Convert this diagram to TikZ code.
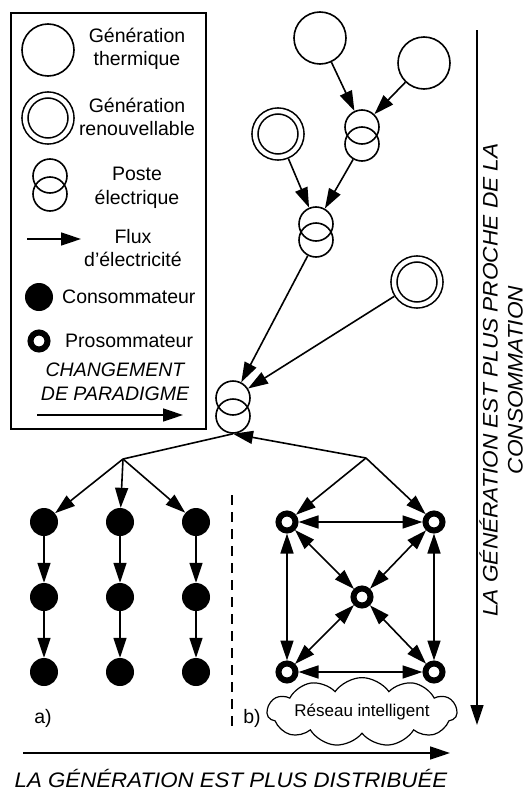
\documentclass[tikz,border=0pt]{standalone}
\usepackage{fontspec}
\setmainfont{Liberation Sans}
\usetikzlibrary{arrows.meta,shapes.symbols}
\tikzset{
	fleche/.style={line width=1.6pt,-{Triangle[length=20pt,width=13pt]}},
	dfleche/.style={line width=1.6pt,{Triangle[length=20pt,width=13pt]}-{Triangle[length=20pt,width=13pt]}},
	thermique/.style={circle,draw,line width=1.6pt,minimum size=52pt,inner sep=0pt},
	renouvelable/.style={circle,draw,line width=1.6pt,double,double distance=4.4pt,minimum size=46pt,inner sep=0pt,outer sep=4pt},
	poste/.style={circle,draw,line width=1.6pt,minimum size=34pt,inner sep=0pt},
	conso/.style={circle,fill=black,minimum size=28pt,inner sep=0pt},
	proso/.style={circle,draw,line width=6pt,fill=white,minimum size=17pt,inner sep=0pt,outer sep=3pt},
	legende/.style={font=\fontsize{19.5}{23.5}\selectfont,align=center,inner sep=0pt},
	axe/.style={font=\fontsize{21}{25}\selectfont\itshape,align=center,inner sep=0pt},
}
\begin{document}
\begin{tikzpicture}[x=1pt,y=-1pt]
		%%%%% START %%%%%
		\useasboundingbox (0,0) rectangle (527,790);
		
		% legende
		\draw[line width=2pt] (11,13) rectangle (206,429);
		\node[thermique] (lthermique) at (48,50) {};
		\node[legende] (tthermique) at (137,49) {Génération\\thermique};
		\node[renouvelable] (lrenouv) at (48,118) {};
		\node[legende] (trenouv) at (137,117) {Génération\\renouvellable};
		\node[poste] (lpostea) at (50,176) {};
		\node[poste] (lposteb) at (50,194) {};
		\node[legende] (tposte) at (137,188) {Poste\\électrique};
		\coordinate (lflux1) at (27,239);
		\coordinate (lflux2) at (81,239);
		\draw[fleche] (lflux1) -- (lflux2);
		\node[legende] (tflux) at (133,248) {Flux\\d'électricité};
		\node[conso] (lconso) at (39,297) {};
		\node[legende,anchor=west] (tconso) at (62,297) {Consommateur};
		\node[proso] (lproso) at (39,341) {};
		\node[legende,anchor=west] (tproso) at (65,341) {Prosommateur};
		\node[legende,font=\fontsize{19.5}{23.5}\selectfont\itshape] (tparadigme) at (115,382) {CHANGEMENT\\DE PARADIGME};
		\coordinate (lpar1) at (37,415);
		\coordinate (lpar2) at (183,415);
		\draw[fleche] (lpar1) -- (lpar2);
		
		% production et postes
		\node[thermique] (th1) at (320,38) {};
		\node[thermique] (th2) at (424,63) {};
		\node[renouvelable] (re1) at (278,134) {};
		\node[renouvelable] (re2) at (417,282) {};
		\node[poste] (p1a) at (362,127) {};
		\node[poste] (p1b) at (362,144) {};
		\node[poste] (p2a) at (316,224) {};
		\node[poste] (p2b) at (316,240) {};
		\node[poste] (p3a) at (233,398) {};
		\node[poste] (p3b) at (233,416) {};
		\draw[fleche] (th1) -- (p1a);
		\draw[fleche] (th2) -- (p1a);
		\draw[fleche] (p1b) -- (p2a);
		\draw[fleche] (re1) -- (p2a);
		\draw[fleche] (p2b) -- (p3a);
		\draw[fleche] (re2) -- (p3a);
		
		% a) reseau classique
		\coordinate (bg) at (123,459);
		\draw[line width=1.6pt] (p3b.south) -- (bg);
		\foreach \i/\x in {1/44,2/120,3/196} {
			\node[conso] (c\i1) at (\x,522) {};
			\node[conso] (c\i2) at (\x,597) {};
			\node[conso] (c\i3) at (\x,672) {};
			\draw[fleche] (bg) -- (c\i1);
			\draw[fleche] (c\i1) -- (c\i2);
			\draw[fleche] (c\i2) -- (c\i3);
		}
		\node[legende] (ta) at (43,718) {a)};
		
		\coordinate (sep1) at (232,495);
		\coordinate (sep2) at (232,733);
		\draw[line width=1.6pt,dash pattern=on 10pt off 7pt] (sep1) -- (sep2);
		
		% b) reseau intelligent
		\coordinate (bd) at (366,458);
		\draw[fleche] (bd) -- (p3b.south);
		\node[proso] (hg) at (287,522) {};
		\node[proso] (hd) at (434,522) {};
		\node[proso] (mi) at (362,597) {};
		\node[proso] (bgp) at (287,672) {};
		\node[proso] (bdp) at (434,672) {};
		\draw[fleche] (bd) -- (hg);
		\draw[fleche] (bd) -- (hd);
		\draw[dfleche] (hg) -- (hd);
		\draw[dfleche] (bgp) -- (bdp);
		\draw[dfleche] (hg) -- (bgp);
		\draw[dfleche] (hd) -- (bdp);
		\draw[dfleche] (hg) -- (mi);
		\draw[dfleche] (hd) -- (mi);
		\draw[dfleche] (bgp) -- (mi);
		\draw[dfleche] (bdp) -- (mi);
		\node[cloud,draw,line width=1.2pt,cloud puffs=11,cloud puff arc=110,aspect=4.5,minimum width=160pt,minimum height=34pt,inner sep=0pt,font=\fontsize{17}{19}\selectfont] (nuage) at (362,712) {Réseau intelligent};
		\node[legende] (tb) at (252,718) {b)};
		
		% axes
		\coordinate (ax1) at (23,753);
		\coordinate (ax2) at (450,753);
		\draw[fleche] (ax1) -- (ax2);
		\node[axe,anchor=base,xscale=1.06] (tax) at (231,787) {LA GÉNÉRATION EST PLUS DISTRIBUÉE};
		\coordinate (ay1) at (477,30);
		\coordinate (ay2) at (477,725);
		\draw[fleche] (ay1) -- (ay2);
		\node[axe,rotate=90,xscale=1.08] (tay) at (501,380) {LA GÉNÉRATION EST PLUS PROCHE DE LA\\CONSOMMATION};
		%%%%% END %%%%%
	\end{tikzpicture}
\end{document}
